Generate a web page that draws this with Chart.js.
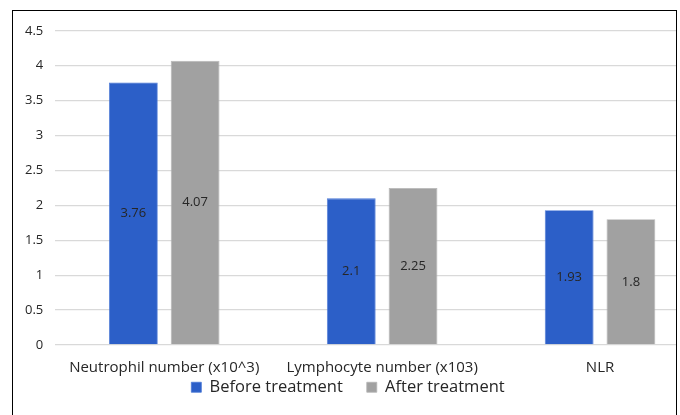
<!DOCTYPE html>
<html><head><meta charset="utf-8">
<script src="https://cdn.jsdelivr.net/npm/chart.js@4"></script>
<style>
html,body{margin:0;padding:0;background:#fff;width:680px;height:415px;overflow:hidden;}
#frame{position:absolute;left:12px;top:10px;width:663px;height:420px;border:1.5px solid #000;border-bottom:none;overflow:hidden;}
#wrap{position:absolute;left:0;top:0;width:700px;height:404px;}
</style></head>
<body>
<div id="frame"><div id="wrap"><canvas id="c"></canvas></div></div>
<script>
const categories = ["Neutrophil number (x10^3)", "Lymphocyte number (x103)", "NLR"];
const beforeTreatment = [3.76, 2.1, 1.93];
const afterTreatment = [4.07, 2.25, 1.8];
const seriesNames = ["Before treatment", "After treatment"];
const FONT = "'Open Sans', Lato, sans-serif";

const valueLabels = {
  id: 'valueLabels',
  afterDatasetsDraw(chart) {
    const ctx = chart.ctx;
    ctx.save();
    ctx.font = "13px " + FONT;
    ctx.fillStyle = "#262626";
    ctx.textAlign = "center";
    ctx.textBaseline = "middle";
    chart.data.datasets.forEach((ds, i) => {
      chart.getDatasetMeta(i).data.forEach((bar, j) => {
        const y = (bar.y + bar.base) / 2;
        ctx.fillText(String(ds.data[j]), bar.x, y);
      });
    });
    ctx.restore();
  }
};
const legendShift = {
  id: 'legendShift',
  afterLayout(chart) {
    const lg = chart.legend;
    const h = lg.bottom - lg.top;
    lg.left = 0; lg.right = 670;
    lg.top = 344; lg.bottom = 344 + h;
  }
};

new Chart(document.getElementById('c'), {
  type: 'bar',
  data: {
    labels: categories,
    datasets: [
      {label: seriesNames[0], data: beforeTreatment, backgroundColor: '#2c5fc8', borderColor: '#4a78d6', borderWidth: 0.8,
       categoryPercentage: 0.567, barPercentage: 0.79},
      {label: seriesNames[1], data: afterTreatment, backgroundColor: '#a1a1a1', borderColor: '#b5b5b5', borderWidth: 0.8,
       categoryPercentage: 0.567, barPercentage: 0.79}
    ]
  },
  options: {
    responsive: true,
    maintainAspectRatio: false,
    animation: false,
    devicePixelRatio: 1,
    layout: {padding: {top: 11, right: 4, left: 0, bottom: -18.5}},
    plugins: {
      tooltip: {enabled: false},
      legend: {
        position: 'bottom',
        labels: {font: {family: FONT, size: 16.5}, color: '#262626', boxWidth: 10, boxHeight: 10, padding: 24}
      }
    },
    scales: {
      x: {
        grid: {display: false},
        border: {display: false},
        ticks: {font: {family: FONT, size: 15}, color: '#262626', padding: 6, maxRotation: 0}
      },
      y: {
        min: 0, max: 4.5,
        ticks: {stepSize: 0.5, font: {family: FONT, size: 13}, color: '#262626', padding: 12,
                callback: v => String(v)},
        grid: {color: '#d9d9d9', lineWidth: 1.3, drawTicks: false},
        border: {display: false}
      }
    }
  },
  plugins: [valueLabels, legendShift]
});
</script>
</body></html>
